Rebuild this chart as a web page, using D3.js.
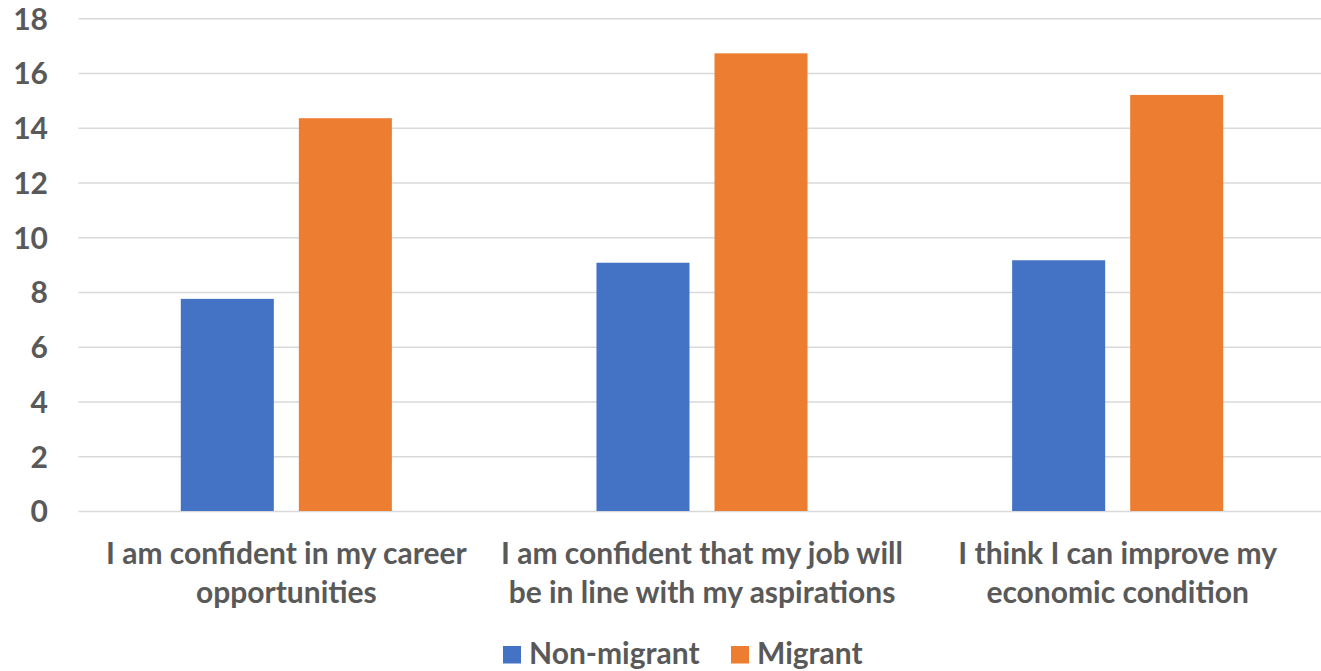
<!DOCTYPE html>
<html>
<head>
<meta charset="utf-8">
<script src="https://cdn.jsdelivr.net/npm/d3@7"></script>
<style>
  html, body { margin: 0; padding: 0; background: #ffffff; }
  svg { display: block; }
  text { font-family: Lato, "Open Sans", sans-serif; font-weight: 700; fill: #595959; }
</style>
</head>
<body>
<svg id="chart" width="1321" height="671"></svg>
<script>
// Survey statements (line breaks as shown under each group)
const categories = [
  "I am confident in my career\nopportunities",
  "I am confident that my job will\nbe in line with my aspirations",
  "I think I can improve my\neconomic condition"
];
const seriesNames = ["Non-migrant", "Migrant"];
const nonMigrant = [7.75, 9.07, 9.16];
const migrant = [14.35, 16.72, 15.2];
const yTicks = [0, 2, 4, 6, 8, 10, 12, 14, 16, 18];
const colors = ["#4472C4", "#ED7D31"];

const seriesValues = [nonMigrant, migrant];
const rows = categories.map((c, i) => ({
  category: c,
  values: seriesNames.map((s, j) => ({ series: s, value: seriesValues[j][i] }))
}));

const svg = d3.select("#chart");
const plot = { left: 78.5, right: 1325.5, top: 18.3, bottom: 511 };
const fontSize = 30;

const x0 = d3.scaleBand()
  .domain(categories)
  .range([plot.left, plot.right])
  .paddingInner(0)
  .paddingOuter(0);

const x1 = d3.scaleBand()
  .domain(seriesNames)
  .range([102.3, x0.bandwidth() - 102.3])
  .paddingInner(0.212)
  .paddingOuter(0);

const y = d3.scaleLinear()
  .domain([0, 18])
  .range([plot.bottom, plot.top]);

const color = d3.scaleOrdinal().domain(seriesNames).range(colors);

// Horizontal gridlines with value labels
const yAxis = d3.axisLeft(y)
  .tickValues(yTicks)
  .tickSize(-(plot.right - plot.left))
  .tickPadding(30.5)
  .tickFormat(d3.format("d"));

const gy = svg.append("g")
  .attr("transform", `translate(${plot.left},0)`)
  .call(yAxis);
gy.select(".domain").remove();
gy.selectAll(".tick line").attr("stroke", "#D9D9D9").attr("stroke-width", 1.5);
gy.selectAll(".tick text")
  .attr("font-size", fontSize)
  .attr("fill", "#595959")
  .attr("font-family", "Lato, sans-serif")
  .attr("font-weight", 700)
  .attr("dy", "0.36em");

// Grouped bars
const groups = svg.append("g").selectAll("g")
  .data(rows)
  .join("g")
  .attr("transform", d => `translate(${x0(d.category)},0)`);

groups.selectAll("rect")
  .data(d => d.values)
  .join("rect")
  .attr("x", d => x1(d.series))
  .attr("width", x1.bandwidth())
  .attr("y", d => y(d.value))
  .attr("height", d => y(0) - y(d.value))
  .attr("fill", d => color(d.series));

// Category labels under each group
const xLabels = svg.append("g").selectAll("text")
  .data(categories)
  .join("text")
  .attr("text-anchor", "middle")
  .attr("font-size", fontSize)
  .attr("x", d => x0(d) + x0.bandwidth() / 2)
  .attr("y", 564);

xLabels.selectAll("tspan")
  .data(d => d.split("\n"))
  .join("tspan")
  .attr("x", function () { return this.parentNode.getAttribute("x"); })
  .attr("dy", (d, i) => i === 0 ? 0 : 38.5)
  .text(d => d);

// Legend
const legendItems = [
  { name: seriesNames[0], x: 503 },
  { name: seriesNames[1], x: 731 }
];
const legend = svg.append("g").selectAll("g")
  .data(legendItems)
  .join("g")
  .attr("transform", d => `translate(${d.x},646)`);

legend.append("rect")
  .attr("width", 18)
  .attr("height", 17.5)
  .attr("fill", d => color(d.name));

legend.append("text")
  .attr("x", 26)
  .attr("y", 17.5)
  .attr("font-size", fontSize)
  .text(d => d.name);
</script>
</body>
</html>
